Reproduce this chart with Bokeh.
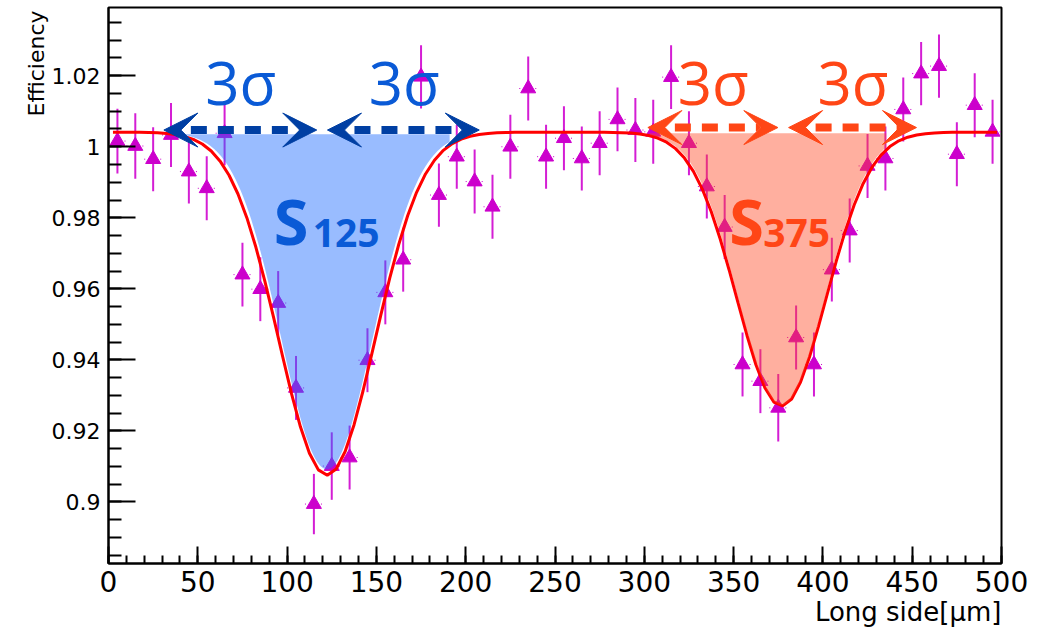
import numpy as np
from bokeh.plotting import figure
from bokeh.models import FixedTicker, Arrow, VeeHead, Title, ColumnDataSource
from bokeh.core.properties import value
from bokeh.embed import file_html
from bokeh.resources import INLINE

# ---- measured efficiency per 10 um bin along the long side ----
bin_centers = [5, 15, 25, 35, 45, 55, 65, 75, 85, 95,
               105, 115, 125, 135, 145, 155, 165, 175, 185, 195,
               205, 215, 225, 235, 245, 255, 265, 275, 285, 295,
               305, 315, 325, 335, 345, 355, 365, 375, 385, 395,
               405, 415, 425, 435, 445, 455, 465, 475, 485, 495]
efficiency = [1.0016, 1.0002, 0.9965, 1.0033, 0.9930, 0.9883, 1.0038, 0.9640, 0.9599, 0.9560,
              0.9321, 0.8994, 0.9101, 0.9125, 0.9399, 0.9590, 0.9682, 1.0197, 0.9864, 0.9972,
              0.9902, 0.9831, 1.0000, 1.0164, 0.9972, 1.0024, 0.9967, 1.0010, 1.0077, 1.0047,
              1.0042, 1.0196, 1.0010, 0.9888, 0.9774, 0.9387, 0.9340, 0.9265, 0.9463, 0.9387,
              0.9654, 0.9764, 0.9946, 0.9967, 1.0105, 1.0206, 1.0227, 0.9979, 1.0117, 1.0042]
eff_error = [0.0091, 0.0092, 0.0090, 0.0090, 0.0090, 0.0090, 0.0090, 0.0090, 0.0090, 0.0090,
             0.0090, 0.0085, 0.0095, 0.0090, 0.0090, 0.0090, 0.0090, 0.0089, 0.0089, 0.0090,
             0.0090, 0.0090, 0.0090, 0.0090, 0.0090, 0.0090, 0.0090, 0.0090, 0.0090, 0.0090,
             0.0090, 0.0090, 0.0090, 0.0090, 0.0090, 0.0090, 0.0090, 0.0095, 0.0090, 0.0090,
             0.0090, 0.0090, 0.0090, 0.0090, 0.0090, 0.0089, 0.0089, 0.0090, 0.0090, 0.0090]
bin_half_width = 5

# ---- fit: flat plateau with two gaussian dips ----
plateau = 1.0041
dip_centers = [122.3, 376.8]
dip_sigmas = [26.9, 25.0]
dip_depths = [0.0966, 0.0771]
fit_range = [2.5, 497.5]

# ---- shaded 3 sigma windows ----
band_ranges = [[38.0, 191.0], [303.0, 435.5]]
band_tops = [1.0035, 1.0038]
band_sigmas = [25.8, 24.4]
band_depths = [0.0949, 0.0768]
band_colors = ["#216dff", "#ff4621"]
band_alpha = [0.46, 0.43]

# ---- annotations ----
arrow_y = [1.0047, 1.0054]
arrow_spans = [[[31.0, 116.6], [122.6, 207.6]], [[302.0, 374.8], [380.8, 452.4]]]
arrow_colors = ["#003fa3", "#ff4616"]
sigma_label_x = [74.0, 165.6, 338.6, 416.8]
sigma_label_color = ["#0a5ad6", "#0a5ad6", "#ff4616", "#ff4616"]
sigma_label_y = 1.0181
s_label_x = [92.5, 347.5]
s_sub_x = [114.3, 366.6]
s_sub_text = ["125", "375"]
s_colors = ["#0a5ad6", "#ff4616"]
s_label_y = 0.9791
s_sub_y = 0.9756

y_major = [0.9, 0.92, 0.94, 0.96, 0.98, 1.0, 1.02]
y_labels = ["0.9", "0.92", "0.94", "0.96", "0.98", "1", "1.02"]
x_major = [0, 50, 100, 150, 200, 250, 300, 350, 400, 450, 500]


def fit_curve(x, base, centers, sigmas, depths):
    y = np.full_like(x, base, dtype=float)
    for c, s, d in zip(centers, sigmas, depths):
        y -= d * np.exp(-(x - c) ** 2 / (2 * s ** 2))
    return y


MAGENTA = "#cc00cc"
FONT = "DejaVu Sans"

p = figure(width=1046, height=638, x_range=(0, 500), y_range=(0.88267, 1.0392),
           output_backend="svg", toolbar_location=None,
           min_border_left=108, min_border_right=45, min_border_top=7, min_border_bottom=75)
p.background_fill_color = "white"
p.border_fill_color = "white"
p.xgrid.visible = False
p.ygrid.visible = False
p.outline_line_color = "black"
p.outline_line_width = 2

# axes: ROOT-like inward ticks
p.xaxis.ticker = FixedTicker(ticks=x_major, minor_ticks=list(range(0, 501, 10)))
p.yaxis.ticker = FixedTicker(ticks=y_major,
                             minor_ticks=[round(0.885 + 0.005 * i, 3) for i in range(31)])
p.yaxis.major_label_overrides = dict(zip(y_major, y_labels))
for ax in (p.xaxis[0], p.yaxis[0]):
    ax.axis_line_width = 2
    ax.axis_line_color = "black"
    ax.major_tick_line_width = 2
    ax.minor_tick_line_width = 2
    ax.major_tick_out = 0
    ax.minor_tick_out = 0
    ax.major_label_text_font = FONT
    ax.major_label_text_color = "black"
p.yaxis.major_tick_in = 27
p.yaxis.minor_tick_in = 13
p.xaxis.major_tick_in = 17
p.xaxis.minor_tick_in = 8
p.yaxis.major_label_text_font_size = "22px"
p.xaxis.major_label_text_font_size = "28px"
p.yaxis.major_label_standoff = 8
p.xaxis.major_label_standoff = 7

# data points with error bars
x = np.array(bin_centers, dtype=float)
y = np.array(efficiency)
e = np.array(eff_error)
src = ColumnDataSource(dict(x=x, y=y, lo=y - e, hi=y + e,
                            xl=x - bin_half_width, xr=x + bin_half_width))
p.segment(x0="x", y0="lo", x1="x", y1="hi", source=src, line_color="#d41ed4", line_width=2)
p.segment(x0="xl", y0="y", x1="xr", y1="y", source=src, line_color=MAGENTA,
          line_width=1, line_dash="1 3")
p.scatter(x="x", y="y", source=src, marker="triangle", size=15,
          fill_color=MAGENTA, line_color=MAGENTA, line_width=1)

# fit curve
xf = np.arange(fit_range[0], fit_range[1] + 0.01, 5.0)
p.line(xf, fit_curve(xf, plateau, dip_centers, dip_sigmas, dip_depths),
       line_color="#ff0000", line_width=3)

# shaded windows (translucent, drawn over points and curve)
for (a, b), top, c, s, d, col, al in zip(band_ranges, band_tops, dip_centers,
                                         band_sigmas, band_depths, band_colors, band_alpha):
    xs = np.linspace(a, b, 300)
    low = np.minimum(fit_curve(xs, plateau, [c], [s], [d]), top)
    p.varea(x=xs, y1=low, y2=np.full_like(xs, top), fill_color=col, fill_alpha=al)

# dashed double arrows
for spans, ay, col in zip(arrow_spans, arrow_y, arrow_colors):
    for x0, x1 in spans:
        p.add_layout(Arrow(x_start=x0, y_start=ay, x_end=x1, y_end=ay,
                           line_color=col, line_width=8, line_dash="16 11",
                           start=VeeHead(size=34, fill_color=col, line_color=col, line_width=1),
                           end=VeeHead(size=34, fill_color=col, line_color=col, line_width=1)))

# 3 sigma labels
p.text(x=sigma_label_x, y=[sigma_label_y] * 4, text=["3σ"] * 4,
       text_color=sigma_label_color, text_align="center", text_baseline="middle",
       text_font=value("Open Sans"), text_font_size="60px")

# S125 / S375 labels
p.text(x=s_label_x, y=[s_label_y] * 2, text=["S", "S"], text_color=s_colors,
       text_align="left", text_baseline="middle", text_font=value("Open Sans"),
       text_font_style="bold", text_font_size="63px")
p.text(x=s_sub_x, y=[s_sub_y] * 2, text=s_sub_text, text_color=s_colors,
       text_align="left", text_baseline="middle", text_font=value("Open Sans"),
       text_font_style="bold", text_font_size="39px")

# axis titles, right/top aligned as in ROOT
p.add_layout(Title(text="Efficiency", align="right", text_font=FONT,
                   text_font_size="22px", text_font_style="normal",
                   text_color="black", standoff=0, offset=3), "left")
p.add_layout(Title(text="Long side[μm]", align="right", text_font=FONT,
                   text_font_size="26px", text_font_style="normal",
                   text_color="black", standoff=0), "below")

open("out.html", "w").write(file_html(p, INLINE))
